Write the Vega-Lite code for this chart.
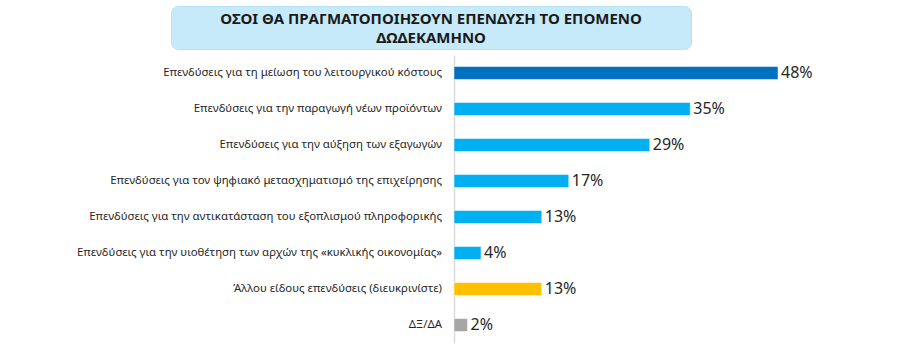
{
  "$schema": "https://vega.github.io/schema/vega-lite/v6.json",
  "background": "white",
  "padding": {"left": 76, "top": 5, "right": 5, "bottom": 5},
  "config": {"font": "Noto Sans", "view": {"stroke": null}},
  "spacing": 5,
  "vconcat": [
    {
      "width": 520,
      "height": 43,
      "view": {"fill": "#c6eaf9", "cornerRadius": 7, "stroke": "#b5e2f6"},
      "data": {"values": [{"title": ["ΟΣΟΙ ΘΑ ΠΡΑΓΜΑΤΟΠΟΙΗΣΟΥΝ ΕΠΕΝΔΥΣΗ ΤΟ ΕΠΟΜΕΝΟ", "ΔΩΔΕΚΑΜΗΝΟ"]}]},
      "mark": {"type": "text", "fontSize": 15, "fontWeight": "bold", "lineHeight": 19, "baseline": "middle", "dy": -9, "color": "#1a1a1a"},
      "encoding": {"text": {"field": "title"}}
    },
    {
      "data": {"values": [
        {"label": "Επενδύσεις για τη μείωση του λειτουργικού κόστους", "value": 0.48, "kind": "top"},
        {"label": "Επενδύσεις για την παραγωγή νέων προϊόντων", "value": 0.35, "kind": "inv"},
        {"label": "Επενδύσεις για την αύξηση των εξαγωγών", "value": 0.29, "kind": "inv"},
        {"label": "Επενδύσεις για τον ψηφιακό μετασχηματισμό της επιχείρησης", "value": 0.17, "kind": "inv"},
        {"label": "Επενδύσεις για την αντικατάσταση του εξοπλισμού πληροφορικής", "value": 0.13, "kind": "inv"},
        {"label": "Επενδύσεις για την υιοθέτηση των αρχών της «κυκλικής οικονομίας»", "value": 0.04, "kind": "inv"},
        {"label": "Άλλου είδους επενδύσεις (διευκρινίστε)", "value": 0.13, "kind": "other"},
        {"label": "ΔΞ/ΔΑ", "value": 0.02, "kind": "na"}
      ]},
      "spacing": 0,
      "hconcat": [
        {
          "width": 282,
          "height": 288,
          "mark": {"type": "text", "align": "right", "baseline": "middle", "dx": -11, "fontSize": 11.4, "color": "#262626"},
          "encoding": {
            "y": {"field": "label", "type": "nominal", "sort": null, "scale": {"paddingInner": 0.64, "paddingOuter": 0.32}, "axis": null},
            "x": {"value": "width"},
            "text": {"field": "label"}
          }
        },
        {
          "width": 360,
          "height": 288,
          "encoding": {
            "y": {"field": "label", "type": "nominal", "sort": null,
                  "scale": {"paddingInner": 0.64, "paddingOuter": 0.32},
                  "axis": {"title": null, "ticks": false, "labels": false, "minExtent": 0, "domainColor": "#d9d9d9", "domainWidth": 1.5}},
            "x": {"field": "value", "type": "quantitative", "scale": {"domain": [0, 0.5333]}, "axis": null}
          },
          "layer": [
            {"mark": {"type": "bar", "stroke": "#ffffff", "strokeOpacity": 0.5, "strokeWidth": 1},
             "encoding": {"color": {"field": "kind", "type": "nominal", "scale": {"domain": ["top", "inv", "other", "na"], "range": ["#0070c0", "#00b0f0", "#ffc000", "#a6a6a6"]}, "legend": null}}},
            {"mark": {"type": "text", "align": "left", "baseline": "middle", "dx": 3, "fontSize": 16, "color": "#262626"},
             "encoding": {"text": {"field": "value", "type": "quantitative", "format": ".0%"}}}
          ]
        }
      ]
    }
  ]
}
